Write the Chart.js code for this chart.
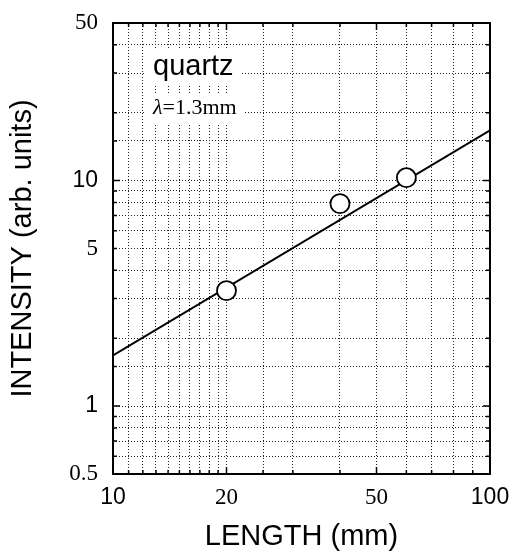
<!DOCTYPE html>
<html>
<head>
<meta charset="utf-8">
<script src="https://cdn.jsdelivr.net/npm/chart.js@4/dist/chart.umd.min.js"></script>
<style>
  html, body { margin: 0; padding: 0; background: #fff; }
  #wrap { width: 514px; height: 556px; }
</style>
</head>
<body>
<div id="wrap"><canvas id="c" width="514" height="556"></canvas></div>
<script>
// ---- data ----
const lengths = [20, 40, 60];            // mm
const intensities = [3.25, 7.9, 10.3];   // arb. units
const fitX = [10, 100];
const fitY = [1.68, 16.7];
const xLabelTicks = [10, 20, 50, 100];
const yLabelTicks = [0.5, 1, 5, 10, 50];
const xSerifTicks = [20, 50];
const ySerifTicks = [0.5, 5, 50];
const sampleName = 'quartz';
const wavelengthSymbol = 'λ';
const wavelengthText = '=1.3mm';

const SANS = '"Liberation Sans", Arial, sans-serif';
const SERIF = '"Liberation Serif", "Times New Roman", serif';

const framePlugin = {
  id: 'frame',
  beforeDatasetsDraw(chart) {
    const { ctx, chartArea: a } = chart;
    ctx.save();
    ctx.textBaseline = 'alphabetic';
    ctx.textAlign = 'left';
    const tx = a.left + 40;
    ctx.font = '29px ' + SANS;
    const w1 = ctx.measureText(sampleName).width;
    ctx.fillStyle = '#fff';
    ctx.fillRect(tx - 8, a.top + 27, w1 + 16, 36);
    ctx.font = 'italic 22px ' + SERIF;
    const wl = ctx.measureText(wavelengthSymbol).width;
    ctx.font = '22px ' + SERIF;
    const wr = ctx.measureText(wavelengthText).width;
    ctx.fillStyle = '#fff';
    ctx.fillRect(tx - 8, a.top + 72, wl + wr + 16, 28);
    ctx.fillStyle = '#000';
    ctx.font = '29px ' + SANS;
    ctx.fillText(sampleName, tx, a.top + 52);
    ctx.font = 'italic 22px ' + SERIF;
    ctx.fillText(wavelengthSymbol, tx, a.top + 91);
    ctx.font = '22px ' + SERIF;
    ctx.fillText(wavelengthText, tx + wl, a.top + 91);
    ctx.restore();
  },
  afterDatasetsDraw(chart) {
    const { ctx, chartArea: a, scales } = chart;
    ctx.save();
    ctx.strokeStyle = '#000';
    ctx.lineWidth = 1.5;
    const xs = scales.x, ys = scales.y;
    ctx.beginPath();
    xs.ticks.forEach(t => {
      const px = xs.getPixelForValue(t.value);
      const len = xLabelTicks.includes(t.value) ? 7 : 4;
      ctx.moveTo(px, a.bottom); ctx.lineTo(px, a.bottom - len);
      ctx.moveTo(px, a.top); ctx.lineTo(px, a.top + len);
    });
    ys.ticks.forEach(t => {
      const py = ys.getPixelForValue(t.value);
      const len = (t.value === 1 || t.value === 10) ? 7 : 4;
      ctx.moveTo(a.left, py); ctx.lineTo(a.left + len, py);
      ctx.moveTo(a.right, py); ctx.lineTo(a.right - len, py);
    });
    ctx.stroke();
    ctx.lineWidth = 2;
    ctx.strokeRect(a.left, a.top, a.right - a.left, a.bottom - a.top);
    ctx.restore();
  }
};

function fixPad(s) {
  s.paddingTop = 0; s.paddingBottom = 0; s.paddingLeft = 0; s.paddingRight = 0;
}

new Chart(document.getElementById('c'), {
  type: 'scatter',
  data: {
    datasets: [
      {
        label: 'measured',
        data: lengths.map((x, i) => ({ x: x, y: intensities[i] })),
        pointRadius: 9.5,
        pointBackgroundColor: '#fff',
        pointBorderColor: '#000',
        pointBorderWidth: 1.8,
        showLine: false
      },
      {
        label: 'fit',
        data: fitX.map((x, i) => ({ x: x, y: fitY[i] })),
        showLine: true,
        borderColor: '#000',
        borderWidth: 2,
        pointRadius: 0,
        fill: false
      }
    ]
  },
  options: {
    responsive: false,
    devicePixelRatio: 1,
    animation: false,
    layout: { padding: { top: 23, right: 24, left: 0, bottom: 0 } },
    plugins: { legend: { display: false }, tooltip: { enabled: false } },
    scales: {
      x: {
        type: 'logarithmic',
        min: 10, max: 100,
        afterFit(s) { s.height = 82; fixPad(s); },
        grid: { color: '#222', lineWidth: 1, drawTicks: false },
        border: { display: false, dash: [1, 2] },
        ticks: {
          color: '#000',
          padding: 10,
          maxRotation: 0,
          autoSkip: false,
          font: (c) => {
            const v = c.tick ? c.tick.value : null;
            return xSerifTicks.includes(v)
              ? { family: SERIF, size: 23 } : { family: SANS, size: 23 };
          },
          callback: (v) => xLabelTicks.includes(v) ? String(v) : ''
        },
        title: {
          display: true, text: 'LENGTH (mm)', color: '#000',
          font: { family: SANS, size: 29 }, padding: { top: 0, bottom: 2 }
        }
      },
      y: {
        type: 'logarithmic',
        min: 0.5, max: 50,
        afterFit(s) { s.width = 113; fixPad(s); },
        grid: { color: '#222', lineWidth: 1, drawTicks: false },
        border: { display: false, dash: [1, 2] },
        ticks: {
          color: '#000',
          padding: 15,
          autoSkip: false,
          font: (c) => {
            const v = c.tick ? c.tick.value : null;
            return ySerifTicks.includes(v)
              ? { family: SERIF, size: 23 } : { family: SANS, size: 23 };
          },
          callback: (v) => yLabelTicks.includes(v) ? String(v) : ''
        },
        title: {
          display: true, text: 'INTENSITY (arb. units)', color: '#000',
          font: { family: SANS, size: 29 }, padding: { top: 6, bottom: 0 }
        }
      }
    }
  },
  plugins: [framePlugin]
});
</script>
</body>
</html>
